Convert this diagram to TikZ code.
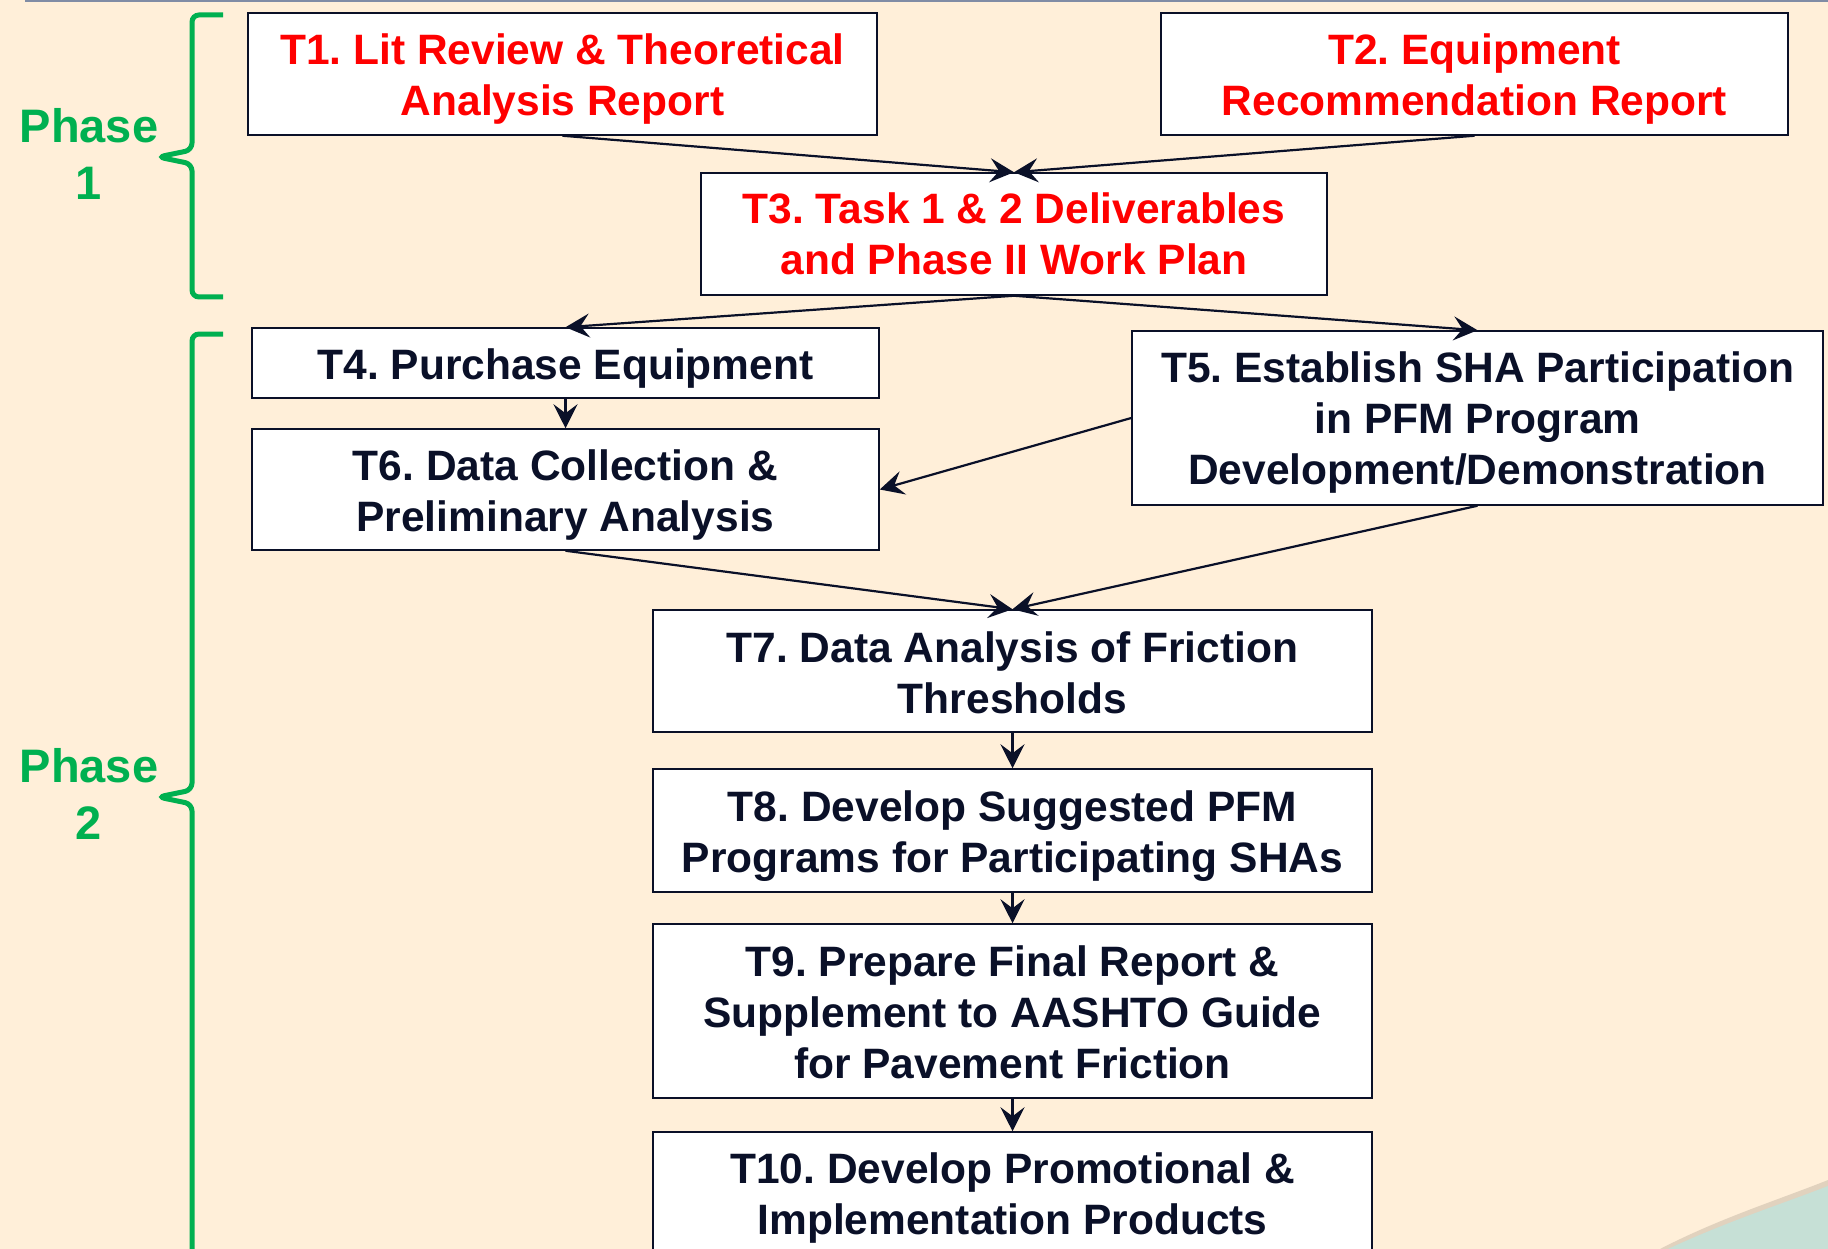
\documentclass[tikz,border=0pt]{standalone}
\usepackage{fontspec}
\setmainfont{Liberation Sans}
\usetikzlibrary{arrows.meta}
\frenchspacing

\definecolor{cream}{RGB}{255,239,217}
\definecolor{navy}{RGB}{10,16,40}
\definecolor{phasegreen}{RGB}{0,176,80}
\definecolor{tealbg}{RGB}{198,224,214}

% pushes the first text line of a box down a little
\newcommand{\tasktop}[1][40pt]{\rule{0pt}{#1}}

\tikzset{
  taskbox/.style={draw=navy, line width=1.5pt, fill=white, inner sep=0pt, align=center,
    font=\fontsize{42.5}{51}\selectfont\bfseries, text=navy},
  redtask/.style={taskbox, text=red},
  flow/.style={draw=navy, line width=2.2pt, -{Stealth[length=24pt,width=24pt,inset=9pt]}},
  bracket/.style={draw=phasegreen, line width=5pt, rounded corners=7pt},
  phaselabel/.style={font=\fontsize{47}{57}\selectfont\bfseries, text=phasegreen, align=center, inner sep=0pt}
}

\begin{document}
\begin{tikzpicture}[x=1pt,y=1pt,yscale=-1,xscale=1]
\useasboundingbox (0,0) rectangle (1828,1249);
\clip (0,0) rectangle (1828,1249);

%Background
\fill [cream] (0,0) rectangle (1828,1249);
\draw [color={rgb, 255:red, 128; green, 140; blue, 165}, line width=2pt] (25,1) -- (1828,1);
\fill [color={rgb, 255:red, 225; green, 210; blue, 190}] (1660,1249) .. controls (1720,1218) and (1778,1200) .. (1828,1180) -- (1828,1249) -- cycle;
\fill [tealbg] (1668,1249) .. controls (1728,1221) and (1782,1204) .. (1828,1186) -- (1828,1249) -- cycle;

%Phase brackets
\draw [bracket] (223,15) -- (192,15) -- (192,150) -- (158,157) -- (192,164) -- (192,297) -- (223,297);
\draw [bracket] (223,334) -- (192,334) -- (192,790) -- (158,797) -- (192,804) -- (192,1270);
\node [phaselabel] (ph1) at (89,154) {Phase\\1};
\node [phaselabel] (ph2) at (89,794) {Phase\\2};

%Phase 1 tasks
\node [redtask, minimum width=629pt, minimum height=122pt] (t1) at (562.5,74) {\tasktop T1. Lit Review \& Theoretical\\Analysis Report};
\node [redtask, minimum width=627pt, minimum height=122pt] (t2) at (1474.5,74) {\tasktop T2. Equipment\\Recommendation Report};
\node [redtask, minimum width=626pt, minimum height=122pt] (t3) at (1014,234) {T3. Task 1 \& 2 Deliverables\\and Phase II Work Plan};

%Phase 2 tasks
\node [taskbox, minimum width=627pt, minimum height=70pt] (t4) at (565.5,363) {\tasktop[41pt]T4. Purchase Equipment};
\node [taskbox, minimum width=691pt, minimum height=174pt] (t5) at (1477.5,418) {\tasktop T5. Establish SHA Participation\\in PFM Program\\Development/Demonstration};
\node [taskbox, minimum width=627pt, minimum height=121pt] (t6) at (565.5,489.5) {\tasktop[42pt]T6. Data Collection \&\\Preliminary Analysis};
\node [taskbox, minimum width=719pt, minimum height=122pt] (t7) at (1012.5,671) {\tasktop[34pt]T7. Data Analysis of Friction\\Thresholds};
\node [taskbox, minimum width=719pt, minimum height=123pt] (t8) at (1012.5,830.5) {\tasktop[42pt]T8. Develop Suggested PFM\\Programs for Participating SHAs};
\node [taskbox, minimum width=719pt, minimum height=174pt] (t9) at (1012.5,1011) {\tasktop[34pt]T9. Prepare Final Report \&\\Supplement to AASHTO Guide\\for Pavement Friction};
\node [taskbox, minimum width=719pt, minimum height=126pt] (t10) at (1012.5,1195) {\tasktop[37pt]T10. Develop Promotional \&\\Implementation Products};

%Connectors
\draw [flow] (t1.south) -- (t3.north);
\draw [flow] (t2.south) -- (t3.north);
\draw [flow] (t3.south) -- (t4.north);
\draw [flow] (t3.south) -- (t5.north);
\draw [flow] (t4.south) -- (t6.north);
\draw [flow] (t5.west) -- (t6.east);
\draw [flow] (t6.south) -- (t7.north);
\draw [flow] (t5.south) -- (t7.north);
\draw [flow] (t7.south) -- (t8.north);
\draw [flow] (t8.south) -- (t9.north);
\draw [flow] (t9.south) -- (t10.north);
\end{tikzpicture}
\end{document}
